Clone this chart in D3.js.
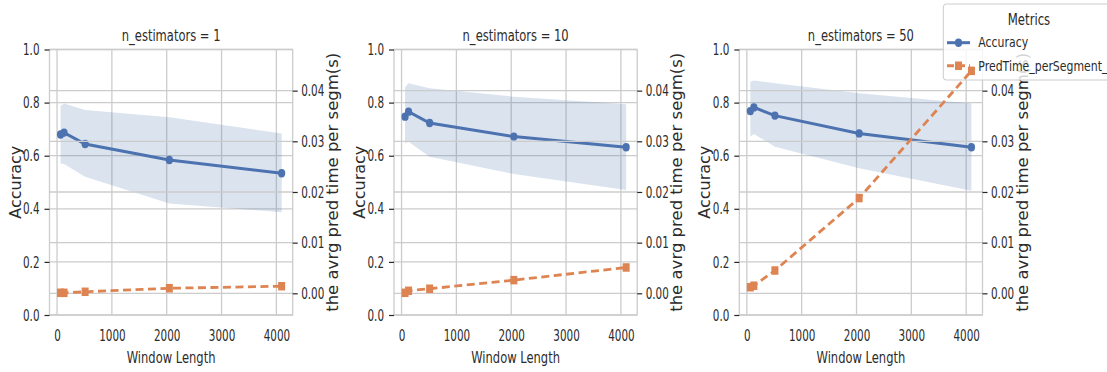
<!DOCTYPE html>
<html>
<head>
<meta charset="utf-8">
<script src="https://cdn.jsdelivr.net/npm/d3@7"></script>
<style>
  body { margin: 0; background: #fff; }
  text { font-family: "DejaVu Sans", sans-serif; fill: #2b2b2b; }
</style>
</head>
<body>
<div id="chart"></div>
<script>
const windowLengths = [64, 128, 512, 2048, 4096];
const nEstimators = [1, 10, 50];
const accMean = [
  [0.680, 0.687, 0.644, 0.584, 0.534],
  [0.747, 0.766, 0.723, 0.672, 0.632],
  [0.768, 0.782, 0.751, 0.684, 0.632]
];
const accUpper = [
  [0.787, 0.797, 0.772, 0.745, 0.684],
  [0.858, 0.873, 0.854, 0.822, 0.794],
  [0.879, 0.883, 0.873, 0.835, 0.797]
];
const accLower = [
  [0.571, 0.569, 0.521, 0.420, 0.387],
  [0.647, 0.653, 0.596, 0.531, 0.471],
  [0.672, 0.682, 0.634, 0.553, 0.468]
];
const predTime = [
  [0.0001, 0.0001, 0.0003, 0.0010, 0.0014],
  [0.0001, 0.0005, 0.0009, 0.0026, 0.0051],
  [0.0012, 0.0015, 0.0045, 0.0188, 0.0439]
];
const xTicks = [0, 1000, 2000, 3000, 4000];
const accTicks = [0, 0.2, 0.4, 0.6, 0.8, 1.0];
const timeTicks = [0, 0.01, 0.02, 0.03, 0.04];
const legendLabels = ['Accuracy', 'PredTime_perSegment_s'];

const width = 1107, height = 372;
const blue = '#4c72b0', orange = '#dd8452', grid = '#cccccc';
const panelLeft = [49.5, 394, 739.3];
const panelW = 243.2, plotTop = 49.5, plotBottom = 315;
const kTick = 0.65, kLabel = 0.72, kLegend = 0.78;

const svg = d3.select('#chart').append('svg')
  .attr('width', width)
  .attr('height', height);

const y = d3.scaleLinear().domain([0, 1]).range([plotBottom, plotTop]);
const yR = d3.scaleLinear().domain([-0.00428, 0.04812]).range([plotBottom, plotTop]);

// horizontal text is narrow in the reference, so squeeze it along x
function hText(g, x, yy, str, size, k, anchor) {
  return g.append('text')
    .attr('transform', `translate(${x},${yy}) scale(${k},1)`)
    .attr('text-anchor', anchor || 'middle')
    .style('font-size', size + 'px')
    .text(str);
}

const orangeLayers = [];

nEstimators.forEach((n, i) => {
  const left = panelLeft[i];
  const x = d3.scaleLinear().domain([-137.6, 4297.6]).range([left, left + panelW]);
  const g = svg.append('g');

  g.append('rect')
    .attr('x', left).attr('y', plotTop)
    .attr('width', panelW).attr('height', plotBottom - plotTop)
    .attr('fill', '#fff');

  // left axis grid
  g.selectAll('.gx').data(xTicks).enter().append('line')
    .attr('x1', d => x(d)).attr('x2', d => x(d))
    .attr('y1', plotTop).attr('y2', plotBottom)
    .attr('stroke', grid).attr('stroke-width', 1.3);
  g.selectAll('.gy').data(accTicks).enter().append('line')
    .attr('x1', left).attr('x2', left + panelW)
    .attr('y1', d => y(d)).attr('y2', d => y(d))
    .attr('stroke', grid).attr('stroke-width', 1.3);

  // confidence band + mean accuracy
  const band = windowLengths.map((w, j) => ({ w, lo: accLower[i][j], hi: accUpper[i][j] }));
  g.append('path')
    .datum(band)
    .attr('d', d3.area().x(d => x(d.w)).y0(d => y(d.lo)).y1(d => y(d.hi)))
    .attr('fill', blue).attr('fill-opacity', 0.2);

  const acc = windowLengths.map((w, j) => ({ w, v: accMean[i][j] }));
  g.append('path')
    .datum(acc)
    .attr('d', d3.line().x(d => x(d.w)).y(d => y(d.v)))
    .attr('fill', 'none').attr('stroke', blue).attr('stroke-width', 3);
  g.selectAll('.pt').data(acc).enter().append('ellipse')
    .attr('cx', d => x(d.w)).attr('cy', d => y(d.v))
    .attr('rx', 3.6).attr('ry', 4.2)
    .attr('fill', blue);

  // twin axis grid
  g.selectAll('.gr').data(timeTicks).enter().append('line')
    .attr('x1', left).attr('x2', left + panelW)
    .attr('y1', d => yR(d)).attr('y2', d => yR(d))
    .attr('stroke', grid).attr('stroke-width', 1.3);

  g.append('rect')
    .attr('x', left).attr('y', plotTop)
    .attr('width', panelW).attr('height', plotBottom - plotTop)
    .attr('fill', 'none').attr('stroke', grid).attr('stroke-width', 1.3);

  // axes
  const ax = g.append('g')
    .attr('transform', `translate(${left},0)`)
    .call(d3.axisLeft(y).tickValues(accTicks).tickFormat(d3.format('.1f')).tickSize(5));
  ax.select('.domain').remove();
  ax.selectAll('line').attr('stroke', '#262626').attr('stroke-width', 1.2);
  ax.selectAll('text')
    .attr('x', -10 / kTick).attr('transform', `scale(${kTick},1)`)
    .style('font-size', '16px').attr('fill', '#2b2b2b');

  const axR = g.append('g')
    .attr('transform', `translate(${left + panelW},0)`)
    .call(d3.axisRight(yR).tickValues(timeTicks).tickFormat(d3.format('.2f')).tickSize(5));
  axR.select('.domain').remove();
  axR.selectAll('line').attr('stroke', '#262626').attr('stroke-width', 1.2);
  axR.selectAll('text')
    .attr('x', 8.5 / kTick).attr('transform', `scale(${kTick},1)`)
    .style('font-size', '16px').attr('fill', '#2b2b2b');

  const axB = g.append('g')
    .attr('transform', `translate(0,${plotBottom})`)
    .call(d3.axisBottom(x).tickValues(xTicks).tickFormat(d3.format('d')).tickSize(0));
  axB.select('.domain').remove();
  axB.selectAll('text')
    .attr('y', 26.3).attr('dy', null).attr('transform', `scale(${kTick},1)`)
    .attr('x', 0)
    .style('font-size', '16px').attr('fill', '#2b2b2b');

  const cx = left + panelW / 2;
  hText(g, cx, 40.7, `n_estimators = ${n}`, 16, kLabel);
  hText(g, cx, 363, 'Window Length', 16, kLabel);

  g.append('text')
    .attr('transform', `translate(${left - 29},${(plotTop + plotBottom) / 2}) rotate(-90)`)
    .attr('text-anchor', 'middle')
    .style('font-size', '16px')
    .text('Accuracy');
  g.append('text')
    .attr('transform', `translate(${left + panelW + 45},${(plotTop + plotBottom) / 2}) rotate(-90)`)
    .attr('text-anchor', 'middle')
    .style('font-size', '16.5px')
    .text('the avrg pred time per segm(s)');

  orangeLayers.push({ x, data: windowLengths.map((w, j) => ({ w, v: predTime[i][j] })) });
});

// legend (runs off the right edge, as in the reference)
const lg = svg.append('g');
lg.append('rect')
  .attr('x', 943.3).attr('y', 4)
  .attr('width', 200).attr('height', 76)
  .attr('rx', 3)
  .attr('fill', '#fff').attr('fill-opacity', 0.8)
  .attr('stroke', grid).attr('stroke-width', 1);
hText(lg, 1029, 25, 'Metrics', 15, kLegend);
lg.append('line')
  .attr('x1', 947).attr('x2', 970).attr('y1', 42.7).attr('y2', 42.7)
  .attr('stroke', blue).attr('stroke-width', 3);
lg.append('ellipse')
  .attr('cx', 958.5).attr('cy', 42.7).attr('rx', 3.6).attr('ry', 4.2)
  .attr('fill', blue);
hText(lg, 978.3, 47, legendLabels[0], 14, kLegend, 'start');
lg.append('line')
  .attr('x1', 947).attr('x2', 970).attr('y1', 65.7).attr('y2', 65.7)
  .attr('stroke', orange).attr('stroke-width', 3).attr('stroke-dasharray', '7,4');
lg.append('rect')
  .attr('x', 955).attr('y', 61.5).attr('width', 7).attr('height', 8.5)
  .attr('fill', orange);
hText(lg, 978.3, 71, legendLabels[1], 14, kLegend, 'start');

// prediction time series on the twin axes, drawn last
orangeLayers.forEach(({ x, data }) => {
  const g = svg.append('g');
  g.append('path')
    .datum(data)
    .attr('d', d3.line().x(d => x(d.w)).y(d => yR(d.v)))
    .attr('fill', 'none').attr('stroke', orange)
    .attr('stroke-width', 2.8).attr('stroke-dasharray', '8,4.5');
  g.selectAll('rect').data(data).enter().append('rect')
    .attr('x', d => x(d.w) - 3.5).attr('y', d => yR(d.v) - 4.25)
    .attr('width', 7).attr('height', 8.5)
    .attr('fill', orange);
});
</script>
</body>
</html>
